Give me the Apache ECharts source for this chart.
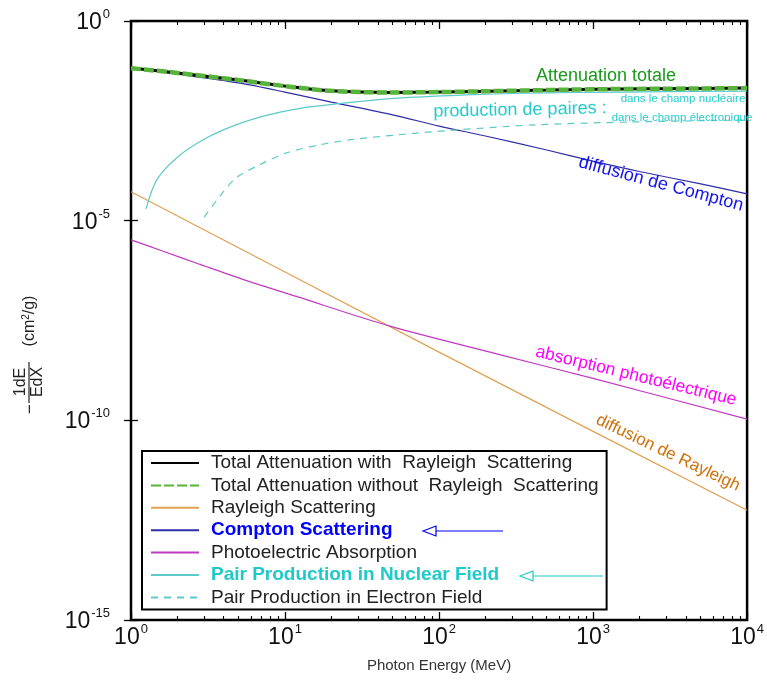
<!DOCTYPE html>
<html>
<head>
<meta charset="utf-8">
<script src="https://cdn.jsdelivr.net/npm/echarts@6/dist/echarts.min.js"></script>
<style>html,body{margin:0;padding:0;background:#fff}#c{width:767px;height:689px}</style>
</head>
<body>
<div id="c"></div>
<script>
// ---- data (energy in MeV, value in cm2/g) ----
const energyTotal = [1, 2, 5, 10, 20, 50, 100, 200, 500, 1000, 5000, 10000];
const totalWithRayleigh = [0.0661, 0.0501, 0.0331, 0.0234, 0.0178, 0.0162, 0.0166, 0.0174, 0.0186, 0.0195, 0.0204, 0.0209];
const totalWithoutRayleigh = [0.0660, 0.0501, 0.0331, 0.0234, 0.0178, 0.0162, 0.0166, 0.0174, 0.0186, 0.0195, 0.0204, 0.0209];

const energyRayleigh = [1, 10, 100, 1000, 10000];
const rayleigh = [5.3e-5, 5.2e-7, 5.1e-9, 5.3e-11, 5.6e-13];

const energyCompton = [1, 2, 5, 10, 20, 50, 100, 200, 500, 1000, 2000, 5000, 10000];
const compton = [0.0661, 0.0468, 0.0282, 0.0166, 0.00933, 0.00447, 0.00234, 0.00132, 0.000589, 0.000309, 0.000170, 0.0000832, 0.0000468];

const energyPhoto = [1, 1.6, 2.78, 5.5, 12.1, 48, 240, 1000, 10000];
const photo = [3.31e-6, 1.74e-6, 8.13e-7, 3.24e-7, 1.23e-7, 2.29e-8, 4.57e-9, 1.12e-9, 1.07e-10];

const energyPairNuc = [1.25, 1.47, 2.0, 3.08, 4.8, 7.8, 12.8, 21, 54, 150, 350, 775, 3000, 10000];
const pairNuclear = [1.95e-5, 1.05e-4, 3.89e-4, 1.17e-3, 2.51e-3, 4.47e-3, 6.61e-3, 8.32e-3, 0.0117, 0.0141, 0.0155, 0.0162, 0.0170, 0.0174];

const energyPairEl = [2.99, 3.73, 4.8, 6.76, 10.1, 16.4, 26.8, 54, 118, 426, 1690, 9600];
const pairElectron = [1.23e-5, 3.89e-5, 1.17e-4, 2.45e-4, 4.90e-4, 7.76e-4, 1.07e-3, 1.41e-3, 1.82e-3, 2.51e-3, 2.95e-3, 3.31e-3];

const seriesNames = [
  'Total Attenuation with  Rayleigh  Scattering',
  'Total Attenuation without  Rayleigh  Scattering',
  'Rayleigh Scattering',
  'Compton Scattering',
  'Photoelectric Absorption',
  'Pair Production in Nuclear Field',
  'Pair Production in Electron Field'
];

// ---- helpers ----
const FONT = '"Liberation Sans", Arial, Helvetica, sans-serif';
function pairs(xs, ys) { return xs.map((x, i) => [x, ys[i]]); }
function expLabel(v) {
  const e = Math.round(Math.log10(v));
  return '{b|10}{s|' + e + '}';
}
const labelRich = {
  b: { fontSize: 23, fontFamily: FONT, color: '#111', lineHeight: 26, verticalAlign: 'bottom' },
  s: { fontSize: 13, fontFamily: FONT, color: '#111', lineHeight: 26, verticalAlign: 'top', padding: [0, 0, 0, 1] }
};
// minor tick positions (log10 space) for a helper value axis
const minorLog = [];
for (let n = 0; n < 4; n++) for (let k = 2; k <= 9; k++) minorLog.push(n + Math.log10(k));

const C = {
  ray: '#dfa050', comp: '#2d2da6', photo: '#c23ac2', pair: '#5ec9c9',
  black: '#000', green: '#56b43a'
};

const chart = echarts.init(document.getElementById('c'), null, { renderer: 'canvas' });

const thin = 1.2;
const option = {
  backgroundColor: '#fff',
  animation: false,
  grid: { left: 131, right: 14, top: 21, bottom: 69, show: true, borderColor: '#000', borderWidth: 2.5, backgroundColor: 'transparent' },
  xAxis: [
    {
      type: 'log', logBase: 10, min: 1, max: 10000, interval: 1, position: 'bottom',
      axisLine: { show: false },
      axisTick: { show: true, inside: true, length: 8, lineStyle: { color: '#000', width: 1.3 } },
      axisLabel: { formatter: expLabel, rich: labelRich, margin: 3 },
      splitLine: { show: false }, minorTick: { show: false },
      name: 'Photon Energy (MeV)', nameLocation: 'middle', nameGap: 38,
      nameTextStyle: { fontSize: 15, color: '#333', fontFamily: FONT }
    },
    {
      type: 'log', logBase: 10, min: 1, max: 10000, interval: 1, position: 'top',
      axisLine: { show: false },
      axisTick: { show: true, inside: true, length: 8, lineStyle: { color: '#000', width: 1.3 } },
      axisLabel: { show: false }, splitLine: { show: false }
    },
    {
      type: 'value', min: 0, max: 4, position: 'bottom',
      axisLine: { show: false },
      axisTick: { show: true, inside: true, length: 4, customValues: minorLog, lineStyle: { color: '#000', width: 1.1 } },
      axisLabel: { show: false }, splitLine: { show: false }
    },
    {
      type: 'value', min: 0, max: 4, position: 'top',
      axisLine: { show: false },
      axisTick: { show: true, inside: true, length: 4, customValues: minorLog, lineStyle: { color: '#000', width: 1.1 } },
      axisLabel: { show: false }, splitLine: { show: false }
    }
  ],
  yAxis: [
    {
      type: 'log', logBase: 10, min: 1e-15, max: 1, interval: 5, position: 'left',
      axisLine: { show: false },
      axisTick: { show: true, inside: true, length: 7, lineStyle: { color: '#000', width: 1.3 } },
      axisLabel: { formatter: expLabel, rich: labelRich, margin: 21 },
      splitLine: { show: false }
    },
    {
      type: 'log', logBase: 10, min: 1e-15, max: 1, interval: 5, position: 'right',
      axisLine: { show: false },
      axisTick: { show: true, inside: true, length: 7, lineStyle: { color: '#000', width: 1.3 } },
      axisLabel: { show: false }, splitLine: { show: false }
    }
  ],
  legend: {
    orient: 'vertical', left: 142, top: 451,
    backgroundColor: '#fff', borderColor: '#000', borderWidth: 2,
    padding: [2, 8, 2, 8],
    itemWidth: 48, itemHeight: 14, itemGap: 2.4,
    itemStyle: { opacity: 0 },
    data: seriesNames,
    textStyle: {
      fontSize: 19, color: '#222', fontFamily: FONT, lineHeight: 20, padding: [0, 0, 0, 7],
      rich: {
        cb: { fontSize: 19, fontWeight: 'bold', color: '#0000ff', fontFamily: FONT, lineHeight: 20 },
        pb: { fontSize: 19, fontWeight: 'bold', color: '#1fc9c9', fontFamily: FONT, lineHeight: 20 }
      }
    },
    formatter: function (name) {
      if (name === 'Compton Scattering') return '{cb|' + name + '}';
      if (name === 'Pair Production in Nuclear Field') return '{pb|' + name + '}';
      return name;
    }
  },
  series: [
    { name: seriesNames[2], type: 'line', data: pairs(energyRayleigh, rayleigh), symbol: 'none',
      lineStyle: { color: C.ray, width: thin }, itemStyle: { color: C.ray }, z: 2 },
    { name: seriesNames[3], type: 'line', data: pairs(energyCompton, compton), symbol: 'none', smooth: 0.3,
      lineStyle: { color: C.comp, width: thin }, itemStyle: { color: C.comp }, z: 2 },
    { name: seriesNames[4], type: 'line', data: pairs(energyPhoto, photo), symbol: 'none', smooth: 0.3,
      lineStyle: { color: C.photo, width: thin }, itemStyle: { color: C.photo }, z: 2 },
    { name: seriesNames[5], type: 'line', data: pairs(energyPairNuc, pairNuclear), symbol: 'none', smooth: 0.3,
      lineStyle: { color: C.pair, width: thin }, itemStyle: { color: C.pair }, z: 2 },
    { name: seriesNames[6], type: 'line', data: pairs(energyPairEl, pairElectron), symbol: 'none', smooth: 0.3,
      lineStyle: { color: C.pair, width: thin, type: [7, 6] }, itemStyle: { color: C.pair }, z: 2 },
    { name: seriesNames[0], type: 'line', data: pairs(energyTotal, totalWithRayleigh), symbol: 'none', smooth: 0.3,
      lineStyle: { color: C.black, width: 3 }, itemStyle: { color: C.black }, z: 5 },
    { name: seriesNames[1], type: 'line', data: pairs(energyTotal, totalWithoutRayleigh), symbol: 'none', smooth: 0.3,
      lineStyle: { color: C.green, width: 4.5, type: [10, 3] }, itemStyle: { color: C.green }, z: 6 }
  ],
  graphic: [
    // curve annotations
    { type: 'text', x: 606, y: 76, z: 50, style: { text: 'Attenuation totale', fill: '#1a9a1a', fontSize: 18, fontFamily: FONT, align: 'center', verticalAlign: 'middle' } },
    { type: 'text', x: 520, y: 110, rotation: 0.02, z: 50, style: { text: 'production de paires :', fill: '#22cccc', fontSize: 18, fontFamily: FONT, align: 'center', verticalAlign: 'middle' } },
    { type: 'text', x: 683, y: 99, z: 50, style: { text: 'dans le champ nucléaire', fill: '#22cccc', fontSize: 11.5, fontFamily: FONT, align: 'center', verticalAlign: 'middle' } },
    { type: 'text', x: 682, y: 118, z: 50, style: { text: 'dans le champ électronique', fill: '#22cccc', fontSize: 11.5, fontFamily: FONT, align: 'center', verticalAlign: 'middle' } },
    { type: 'text', x: 661, y: 184, rotation: -0.262, z: 50, style: { text: 'diffusion de Compton', fill: '#1414ee', fontSize: 18, fontFamily: FONT, align: 'center', verticalAlign: 'middle' } },
    { type: 'text', x: 636, y: 376, rotation: -0.239, z: 50, style: { text: 'absorption photoélectrique', fill: '#ff00ff', fontSize: 17.5, fontFamily: FONT, align: 'center', verticalAlign: 'middle' } },
    { type: 'text', x: 668, y: 453, rotation: -0.445, z: 50, style: { text: 'diffusion de Rayleigh', fill: '#d0700a', fontSize: 17, fontFamily: FONT, align: 'center', verticalAlign: 'middle' } },
    // legend arrows
    { type: 'polyline', z: 100, shape: { points: [[436, 531], [503, 531]] }, style: { stroke: '#0000ff', lineWidth: 1.2 } },
    { type: 'polygon', z: 100, shape: { points: [[423, 531], [436, 526], [436, 536]] }, style: { fill: '#fff', stroke: '#0000ff', lineWidth: 1.2 } },
    { type: 'polyline', z: 100, shape: { points: [[533, 576], [603, 576]] }, style: { stroke: '#1fc9c9', lineWidth: 1.2 } },
    { type: 'polygon', z: 100, shape: { points: [[520, 576], [533, 571], [533, 581]] }, style: { fill: '#fff', stroke: '#1fc9c9', lineWidth: 1.2 } },
    // y-axis title
    {
      type: 'group', x: 30, y: 350, rotation: Math.PI / 2, z: 50,
      children: [
        { type: 'text', x: -59, y: 0, style: { text: '−', fill: '#222', fontSize: 17, fontFamily: FONT, align: 'center', verticalAlign: 'middle' } },
        { type: 'line', shape: { x1: -53, y1: -1, x2: -12, y2: -1 }, style: { stroke: '#222', lineWidth: 1.2 } },
        { type: 'text', x: -32, y: -9, style: { text: '1dE', fill: '#222', fontSize: 16, fontFamily: FONT, align: 'center', verticalAlign: 'middle' } },
        { type: 'text', x: -32, y: 8, style: { text: 'EdX', fill: '#222', fontSize: 16, fontFamily: FONT, align: 'center', verticalAlign: 'middle' } },
        { type: 'text', x: 29, y: 0, style: { text: '(cm{s|2}/g)', fill: '#222', fontSize: 16, fontFamily: FONT, align: 'center', verticalAlign: 'middle',
            rich: { s: { fontSize: 10, fontFamily: FONT, fill: '#222', verticalAlign: 'top', lineHeight: 18 } } } }
      ]
    }
  ]
};
chart.setOption(option);
</script>
</body>
</html>
